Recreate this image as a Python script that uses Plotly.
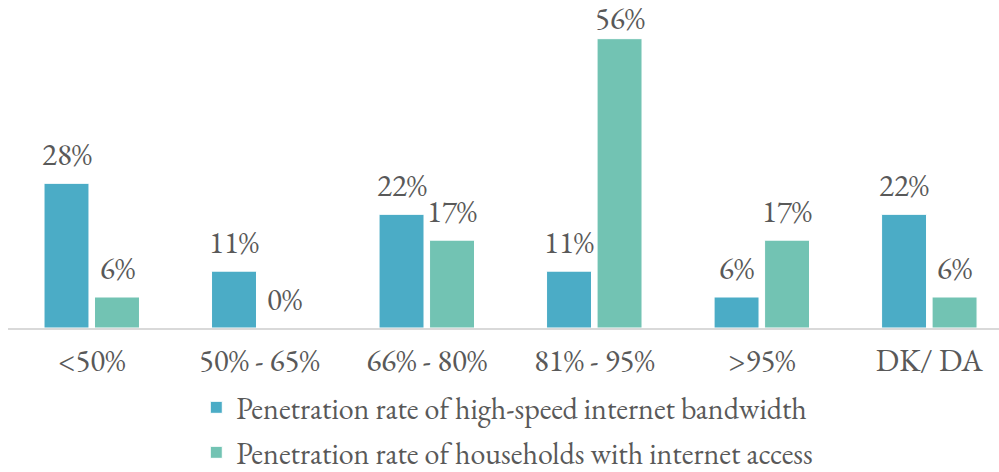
import plotly.graph_objects as go

categories = ["<50%", "50% - 65%", "66% - 80%", "81% - 95%", ">95%", "DK/ DA"]
bandwidth = [28, 11, 22, 11, 6, 22]
households = [6, 0, 17, 56, 17, 6]
series_names = ["Penetration rate of high-speed internet bandwidth",
                "Penetration rate of households with internet access"]
colors = ["#4BACC6", "#72C3B3"]

FONT = "EB Garamond"
TXT = "#595959"
FS = 31
FS_LEG = 30
BARGAP = 0.397
GROUPGAP = 0.11
PLOT_W = 991
XMAX = 5.416
cat_px = PLOT_W / (XMAX + 0.5)
slot = cat_px * (1 - BARGAP) / 2
offsets = [-slot / 2, slot / 2]
vmax = max(bandwidth + households)

fig = go.Figure()
for i, (name, vals) in enumerate(zip(series_names, [bandwidth, households])):
    fig.add_trace(go.Bar(
        x=categories, y=vals, name=name,
        marker=dict(color=colors[i], line=dict(color="white", width=1)),
        legendgroup=f"g{i}",
    ))
    for c, v in zip(categories, vals):
        # the tallest label is pulled down to stay inside the chart (as in the original)
        fig.add_annotation(x=c, y=v, text=f"{v}%", showarrow=False,
                           xanchor="center", yanchor="bottom",
                           xshift=offsets[i], yshift=7 if v < vmax else -1,
                           font=dict(family=FONT, size=FS, color=TXT))

fig.update_layout(
    width=999, height=472,
    margin=dict(l=8, r=0, t=18, b=144, autoexpand=False),
    paper_bgcolor="white", plot_bgcolor="white",
    barmode="group", bargap=BARGAP, bargroupgap=GROUPGAP,
    font=dict(family=FONT, size=FS, color=TXT),
    showlegend=True,
    legend=dict(orientation="v", x=0.19, xanchor="left", y=-0.172, yanchor="top",
                font=dict(family=FONT, size=FS_LEG, color=TXT),
                tracegroupgap=3, itemwidth=30),
    xaxis=dict(showline=True, linecolor="#D9D9D9", linewidth=1.5,
               ticks="outside", ticklen=4, tickcolor="rgba(0,0,0,0)",
               range=[-0.5, XMAX],
               tickfont=dict(family=FONT, size=FS, color=TXT), showgrid=False),
    yaxis=dict(visible=False, range=[0, 60], showgrid=False),
)

fig.write_html("out.html", config={"displayModeBar": False},
               post_script="document.body.style.margin='0px';")
